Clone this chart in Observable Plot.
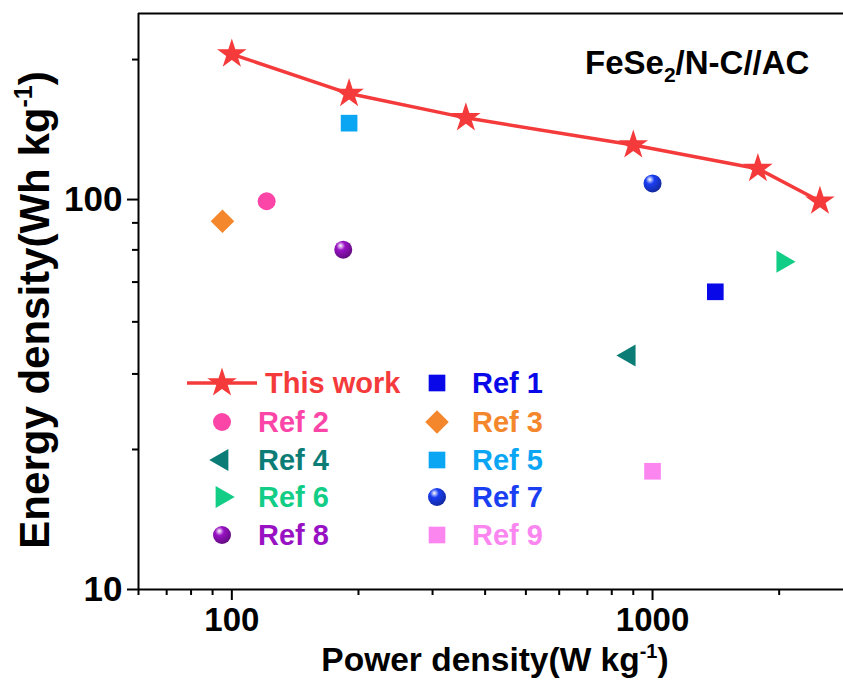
<!DOCTYPE html>
<html><head><meta charset="utf-8">
<script src="https://cdn.jsdelivr.net/npm/d3@7"></script>
<script src="https://cdn.jsdelivr.net/npm/@observablehq/plot@0.6"></script>
<style>
html,body{margin:0;padding:0;background:#fff;overflow:hidden}
#wrap{position:relative;width:843px;height:682px}
</style></head><body><div id="wrap"></div>
<script>
// ---- data ----
const thisWorkPower  = [100, 190, 360, 900, 1780, 2500];
const thisWorkEnergy = [236, 187, 162, 138, 120, 99];
const refNames  = ["Ref 1", "Ref 2", "Ref 3", "Ref 4", "Ref 5", "Ref 6", "Ref 7", "Ref 8", "Ref 9"];
const refPower  = [1410, 121, 95, 880, 190, 2040, 1000, 184, 1000];
const refEnergy = [58, 99, 88, 39.8, 157, 69.3, 110, 74.4, 20.1];
const refColors = ["#0808e8", "#fb46a8", "#f4862c", "#0b7d76", "#0aa6f4", "#12cd86", "#1a3ef2", "#9812c4", "#fb86f0"];
const refSymbols = ["square", "circle", "square", "triangle", "square", "triangle", "circle", "circle", "square"];
const refRotate  = [0, 0, 45, -90, 0, 90, 0, 0, 0];
const refSphere  = [false, false, false, false, false, false, true, true, false];
const xMajor = [100, 1000];
const xMinor = [60, 70, 80, 90, 200, 300, 400, 500, 600, 700, 800, 900, 2000];
const yMajor = [10, 100];
const yMinor = [22.86, 35.71, 48.57, 61.43, 74.29, 87.14, 228.57];
const red = "#f43a3a";
const fontFamily = "'Liberation Sans', Arial, sans-serif";

const thisWork = thisWorkPower.map((p, i) => ({p, e: thisWorkEnergy[i]}));
const refs = refNames.map((n, i) => ({name: n, p: refPower[i], e: refEnergy[i]}));
const symR = {square: 9.4, circle: 9, triangle: 8.2};

const refMarks = refs.map((d, i) => Plot.dot([d], {
  x: "p", y: "e", symbol: refSymbols[i],
  r: refRotate[i] === 45 ? 9.4 : symR[refSymbols[i]],
  rotate: refRotate[i],
  fill: refSphere[i] ? `url(#sph${i})` : refColors[i], stroke: "none"
}));

const chart = Plot.plot({
  width: 843, height: 682,
  marginLeft: 138, marginTop: 13, marginBottom: 93, marginRight: 0,
  style: {fontFamily, fontWeight: "bold", fontSize: "33px", color: "#000", background: "#fff"},
  x: {type: "log", domain: [60, 2844]},
  y: {type: "log", domain: [10, 300]},
  marks: [
    Plot.axisX({ticks: xMinor, tickSize: 6, strokeWidth: 2, tickFormat: () => "", label: null}),
    Plot.axisX({ticks: xMajor, tickSize: 11, strokeWidth: 2, tickPadding: 7, tickFormat: d => String(d), label: null, fontSize: 33, fontWeight: "bold"}),
    Plot.axisY({ticks: yMinor, tickSize: 6, strokeWidth: 2, tickFormat: () => "", label: null}),
    Plot.axisY({ticks: yMajor, tickSize: 11, strokeWidth: 2, tickPadding: 5, tickFormat: d => String(d), label: null, fontSize: 35, fontWeight: "bold"}),
    Plot.ruleX([60], {strokeWidth: 2}),
    Plot.ruleY([10], {strokeWidth: 2}),
    Plot.ruleY([300], {strokeWidth: 2}),
    ...refMarks,
    Plot.line(thisWork, {x: "p", y: "e", stroke: red, strokeWidth: 3.5}),
    Plot.dot(thisWork, {x: "p", y: "e", symbol: "star", r: 9.3, fill: red, stroke: "none"})
  ]
});
document.getElementById("wrap").appendChild(chart);

const svg = d3.select(chart);
// sphere gradients
const defs = svg.insert("defs", ":first-child");
refs.forEach((d, i) => {
  if (!refSphere[i]) return;
  const c = d3.color(refColors[i]);
  const g = defs.append("radialGradient").attr("id", `sph${i}`)
    .attr("cx", "0.38").attr("cy", "0.32").attr("r", "0.7").attr("fx", "0.35").attr("fy", "0.28");
  g.append("stop").attr("offset", "0").attr("stop-color", "#ffffff");
  g.append("stop").attr("offset", "0.35").attr("stop-color", c.formatHex());
  g.append("stop").attr("offset", "1").attr("stop-color", c.darker(1.2).formatHex());
});

// axis titles
const xt = svg.append("text").attr("x", 495).attr("y", 671).attr("text-anchor", "middle")
  .attr("font-size", 33.5).attr("font-weight", "bold").attr("fill", "#000");
xt.append("tspan").text("Power density(W kg");
xt.append("tspan").attr("font-size", 20).attr("dy", -13).text("-1");
xt.append("tspan").attr("dy", 13).text(")");

const yt = svg.append("text").attr("transform", "translate(49,310) rotate(-90)").attr("text-anchor", "middle")
  .attr("font-size", 42).attr("font-weight", "bold").attr("fill", "#000");
yt.append("tspan").text("Energy density(Wh kg");
yt.append("tspan").attr("font-size", 25).attr("dy", -17).text("-1");
yt.append("tspan").attr("dy", 17).text(")");

// in-plot title
const tt = svg.append("text").attr("x", 585).attr("y", 74).attr("text-anchor", "start")
  .attr("font-size", 33).attr("font-weight", "bold").attr("fill", "#000");
tt.append("tspan").text("FeSe");
tt.append("tspan").attr("font-size", 21).attr("dy", 8).text("2");
tt.append("tspan").attr("dy", -8).text("/N-C//AC");

// legend
const lg = svg.append("g").attr("font-size", 29).attr("font-weight", "bold").attr("text-anchor", "start");
const rowY = [383, 422, 460, 497, 535];
lg.append("line").attr("x1", 187).attr("x2", 257).attr("y1", rowY[0]).attr("y2", rowY[0]).attr("stroke", red).attr("stroke-width", 3.5);
lg.append("path").attr("transform", `translate(222,${rowY[0]})`).attr("d", d3.symbol(d3.symbolStar, Math.PI * 9.3 * 9.3)()).attr("fill", red);
lg.append("text").attr("x", 265).attr("y", rowY[0]).attr("dy", "0.36em").attr("fill", red).text("This work");
const symMap = {square: d3.symbolSquare, circle: d3.symbolCircle, triangle: d3.symbolTriangle};
refs.forEach((d, i) => {
  const slot = i + 1;
  const row = Math.floor(slot / 2), col = slot % 2;
  const sx = col === 0 ? 222 : 437, tx = col === 0 ? 258 : 472;
  const r = refRotate[i] === 45 ? 9.4 : symR[refSymbols[i]];
  lg.append("path").attr("transform", `translate(${sx},${rowY[row]}) rotate(${refRotate[i]})`)
    .attr("d", d3.symbol(symMap[refSymbols[i]], Math.PI * r * r)())
    .attr("fill", refSphere[i] ? `url(#sph${i})` : refColors[i]);
  lg.append("text").attr("x", tx).attr("y", rowY[row]).attr("dy", "0.36em").attr("fill", refColors[i]).text(d.name);
});
</script></body></html>
